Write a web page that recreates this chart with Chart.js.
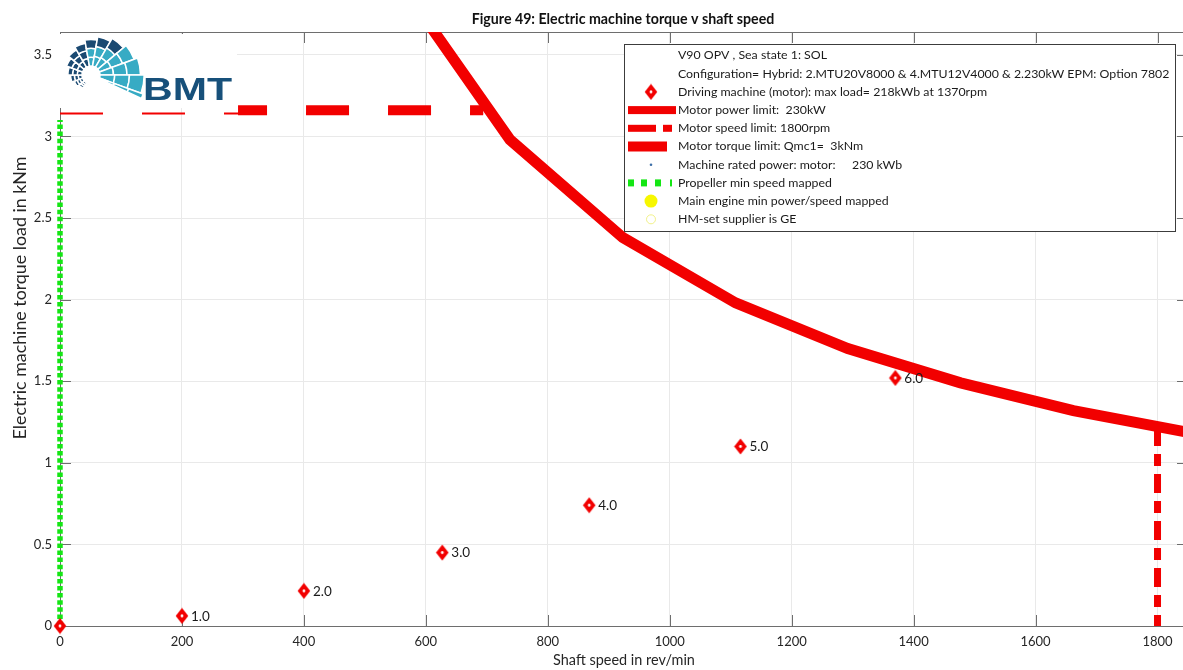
<!DOCTYPE html>
<html>
<head>
<meta charset="utf-8">
<script src="https://cdn.jsdelivr.net/npm/chart.js@4.4.1/dist/chart.umd.min.js"></script>
<style>
  html, body { margin: 0; padding: 0; background: #fff; overflow: hidden; width: 1183px; height: 670px; }
  canvas { display: block; }
</style>
</head>
<body>
<canvas id="chart" width="1200" height="670"></canvas>
<script>
// Axis ticks
const speedTicks = [0, 200, 400, 600, 800, 1000, 1200, 1400, 1600, 1800];
const torqueTicks = [0, 0.5, 1, 1.5, 2, 2.5, 3, 3.5];
const torqueTickLabels = ['0', '0.5', '1', '1.5', '2', '2.5', '3', '3.5'];

// Motor power limit (230 kW) as torque v speed
const powerLimitSpeed = [554, 738, 923, 1108, 1292, 1477, 1662, 1846];
const powerLimitTorque = [3.96, 2.98, 2.38, 1.98, 1.70, 1.49, 1.32, 1.19];

// Motor speed limit (1800 rpm)
const speedLimitSpeed = [1800, 1800];
const speedLimitTorque = [1.22, 0];

// Motor torque limit
const torqueLimitSpeed = [0, 694];
const torqueLimitTorque = [3.14, 3.14];
const torqueLimitHeavySpeed = [292, 694];
const torqueLimitHeavyTorque = [3.16, 3.16];

// Propeller minimum speed mapped
const propellerMinSpeed = [0, 0];
const propellerMinTorque = [0, 3.1];

// Driving machine (motor) operating points per speed step
const motorSpeed = [0, 200, 400, 627, 868, 1116, 1370];
const motorTorque = [0, 0.062, 0.215, 0.45, 0.74, 1.10, 1.52];
const motorLabels = ['', '1.0', '2.0', '3.0', '4.0', '5.0', '6.0'];

const FAMILY = 'Lato, "Open Sans", "Liberation Sans", sans-serif';
const RED = '#f20000';
const GREEN = '#14e614';
const AXIS = '#6e6e6e';

const pts = (xs, ys) => xs.map((x, i) => ({ x, y: ys[i] }));

// Red diamond marker with a white centre dot
function makeDiamond() {
  const c = document.createElement('canvas');
  c.width = 14; c.height = 17;
  const g = c.getContext('2d');
  g.fillStyle = RED;
  g.beginPath();
  g.moveTo(7, 0.5); g.lineTo(13.3, 8.5); g.lineTo(7, 16.5); g.lineTo(0.7, 8.5);
  g.closePath(); g.fill();
  g.fillStyle = '#fff';
  g.beginPath(); g.arc(7, 8.5, 1.4, 0, Math.PI * 2); g.fill();
  return c;
}
const diamond = makeDiamond();

function fitSize(ctx, text, width, weight) {
  ctx.font = `${weight} 20px ${FAMILY}`;
  return 20 * width / ctx.measureText(text).width;
}

function drawEmblem(ctx, cx, cy) {
  const a0 = 100, a1 = 385, step = 20, rIn = 9;
  const dark = '#1b4a72', teal = '#37abc4';
  const rad = d => d * Math.PI / 180;
  ctx.save();
  ctx.strokeStyle = '#fff';
  ctx.lineWidth = 1.5;
  for (let a = a0; a < a1; a += step) {
    const aEnd = Math.min(a + step, a1);
    const mid = (a + aEnd) / 2;
    const f = Math.pow((mid - a0) / (a1 - a0), 1.25);
    const rOut = 13 + f * 43;
    for (let b = 0; b < 3; b++) {
      const r0 = rIn + (rOut - rIn) * b / 3;
      const r1 = rIn + (rOut - rIn) * (b + 1) / 3;
      let col = dark;
      if (mid > 320) col = teal;
      else if (mid > 250 && b < 2) col = teal;
      ctx.fillStyle = col;
      ctx.beginPath();
      ctx.arc(cx, cy, r1, rad(a), rad(aEnd));
      ctx.arc(cx, cy, r0, rad(aEnd), rad(a), true);
      ctx.closePath();
      ctx.fill();
      ctx.stroke();
    }
  }
  ctx.restore();
}

const decorations = {
  id: 'decorations',
  beforeDatasetsDraw(chart) {
    const { ctx, chartArea: a, scales } = chart;
    ctx.save();
    ctx.strokeStyle = AXIS;
    ctx.lineWidth = 1;
    ctx.beginPath();
    ctx.moveTo(a.left, a.bottom + 0.5); ctx.lineTo(a.right, a.bottom + 0.5);
    ctx.moveTo(a.left, a.top + 0.5); ctx.lineTo(a.right, a.top + 0.5);
    ctx.moveTo(a.left + 0.5, a.top); ctx.lineTo(a.left + 0.5, a.bottom);
    ctx.moveTo(a.right - 0.5, a.top); ctx.lineTo(a.right - 0.5, a.bottom);
    const tl = 11;
    speedTicks.forEach(v => {
      const x = Math.round(scales.x.getPixelForValue(v)) + 0.5;
      ctx.moveTo(x, a.bottom); ctx.lineTo(x, a.bottom - tl);
      ctx.moveTo(x, a.top); ctx.lineTo(x, a.top + tl);
    });
    torqueTicks.forEach(v => {
      const y = Math.round(scales.y.getPixelForValue(v)) + 0.5;
      ctx.moveTo(a.left, y); ctx.lineTo(a.left + tl, y);
      ctx.moveTo(a.right, y); ctx.lineTo(a.right - tl, y);
    });
    ctx.stroke();
    ctx.restore();
  },
  afterDatasetsDraw(chart) {
    const { ctx } = chart;
    const meta = chart.getDatasetMeta(0);
    ctx.save();
    ctx.font = `13.5px ${FAMILY}`;
    ctx.fillStyle = '#1a1a1a';
    ctx.textBaseline = 'middle';
    meta.data.forEach((el, i) => {
      if (motorLabels[i]) ctx.fillText(motorLabels[i], el.x + 9, el.y + 0.5);
    });
    ctx.restore();
  },
  afterDraw(chart) {
    const { ctx } = chart;
    ctx.save();

    // Title
    const title = 'Figure 49: Electric machine torque v shaft speed';
    const ts = fitSize(ctx, title, 303, 'bold');
    ctx.font = `bold ${ts}px ${FAMILY}`;
    ctx.fillStyle = '#111';
    ctx.textAlign = 'center';
    ctx.textBaseline = 'middle';
    ctx.fillText(title, 623, 19);

    // Axis titles
    const xt = 'Shaft speed in rev/min';
    ctx.font = `${fitSize(ctx, xt, 142, 'normal')}px ${FAMILY}`;
    ctx.fillStyle = '#262626';
    ctx.fillText(xt, 624, 660);
    const yt = 'Electric machine torque load in kNm';
    ctx.font = `${fitSize(ctx, yt, 283, 'normal')}px ${FAMILY}`;
    ctx.save();
    ctx.translate(20, 298);
    ctx.rotate(-Math.PI / 2);
    ctx.fillText(yt, 0, 0);
    ctx.restore();

    // Legend
    const lx = 624, ly = 44, lw = 551, lh = 187;
    ctx.fillStyle = '#fff';
    ctx.fillRect(lx, ly, lw, lh);
    ctx.strokeStyle = '#3c3c3c';
    ctx.lineWidth = 1;
    ctx.strokeRect(lx + 0.5, ly + 0.5, lw, lh);
    const rows = [
      'V90 OPV , Sea state 1: SOL',
      'Configuration= Hybrid: 2.MTU20V8000 & 4.MTU12V4000 & 2.230kW EPM: Option 7802',
      'Driving machine (motor): max load= 218kWb at 1370rpm',
      'Motor power limit:  230kW',
      'Motor speed limit: 1800rpm',
      'Motor torque limit: Qmc1=  3kNm',
      'Machine rated power: motor:',
      'Propeller min speed mapped',
      'Main engine min power/speed mapped',
      'HM-set supplier is GE'
    ];
    const fs = fitSize(ctx, rows[1], 492, 'normal');
    ctx.font = `${fs}px ${FAMILY}`;
    ctx.fillStyle = '#1a1a1a';
    ctx.textAlign = 'left';
    const tx = 678, icx = 651;
    const rowY = i => 55.5 + i * 18.2;
    rows.forEach((r, i) => ctx.fillText(r, tx, rowY(i)));
    ctx.fillText('230 kWb', 852, rowY(6));

    // legend icons
    ctx.drawImage(diamond, icx - 7, rowY(2) - 8.5);
    ctx.fillStyle = RED;
    ctx.fillRect(628, rowY(3) - 4, 48, 8);
    ctx.fillRect(628, rowY(4) - 3.5, 28, 7);
    ctx.fillRect(663, rowY(4) - 3.5, 9, 7);
    ctx.fillRect(628, rowY(5) - 5, 39, 10);
    ctx.fillStyle = '#3d6fa8';
    ctx.beginPath(); ctx.arc(icx, rowY(6), 1.3, 0, Math.PI * 2); ctx.fill();
    ctx.fillStyle = GREEN;
    [628, 641, 655].forEach(x => ctx.fillRect(x, rowY(7) - 3.5, 6, 7));
    ctx.fillRect(670, rowY(7) - 3.5, 2, 7);
    ctx.fillStyle = '#f7f700';
    ctx.beginPath(); ctx.arc(icx, rowY(8), 6.5, 0, Math.PI * 2); ctx.fill();
    ctx.strokeStyle = '#f2f28a';
    ctx.lineWidth = 1;
    ctx.beginPath(); ctx.arc(icx, rowY(9), 4.5, 0, Math.PI * 2); ctx.stroke();

    // BMT logo
    ctx.fillStyle = '#fff';
    ctx.fillRect(57, 34, 180, 74);
    drawEmblem(ctx, 91, 75);
    ctx.fillStyle = '#17507a';
    ctx.font = `bold 31px "Liberation Sans", Arial, sans-serif`;
    const bw = ctx.measureText('BMT').width;
    ctx.save();
    ctx.translate(143, 100);
    ctx.scale(89 / bw, 1);
    ctx.textBaseline = 'alphabetic';
    ctx.fillText('BMT', 0, 0);
    ctx.restore();

    ctx.restore();
  }
};

const tickFont = { family: FAMILY, size: 13 };

new Chart(document.getElementById('chart'), {
  type: 'scatter',
  data: {
    datasets: [
      {
        label: 'Driving machine (motor)',
        data: pts(motorSpeed, motorTorque),
        pointStyle: diamond,
        pointRadius: 8,
        showLine: false,
        clip: 10
      },
      {
        label: 'Propeller min speed mapped marker',
        data: [{ x: propellerMinSpeed[0], y: propellerMinTorque[0] }],
        pointStyle: 'circle',
        pointRadius: 4.5,
        backgroundColor: 'rgba(40,220,40,0.7)',
        borderWidth: 0,
        showLine: false,
        clip: 10
      },
      {
        label: 'Motor power limit',
        data: pts(powerLimitSpeed, powerLimitTorque),
        showLine: true,
        borderColor: RED,
        borderWidth: 11,
        pointRadius: 0,
        borderJoinStyle: 'miter',
        clip: 0
      },
      {
        label: 'Motor speed limit',
        data: pts(speedLimitSpeed, speedLimitTorque),
        showLine: true,
        borderColor: RED,
        borderWidth: 7,
        borderDash: [19, 8, 12, 8],
        pointRadius: 0,
        clip: 0
      },
      {
        label: 'Motor torque limit',
        data: pts(torqueLimitHeavySpeed, torqueLimitHeavyTorque),
        showLine: true,
        borderColor: RED,
        borderWidth: 10,
        borderDash: [43, 39],
        borderDashOffset: 14,
        pointRadius: 0,
        clip: 0
      },
      {
        label: 'Motor torque limit (thin)',
        data: pts(torqueLimitSpeed, torqueLimitTorque),
        showLine: true,
        borderColor: RED,
        borderWidth: 2,
        borderDash: [43, 39],
        pointRadius: 0,
        clip: 0
      },
      {
        label: 'Propeller min speed mapped',
        data: pts(propellerMinSpeed, propellerMinTorque),
        showLine: true,
        borderColor: GREEN,
        borderWidth: 5.5,
        borderDash: [4.5, 2.6],
        pointRadius: 0,
        clip: 6
      }
    ]
  },
  options: {
    responsive: false,
    animation: false,
    events: [],
    layout: { padding: { top: 32, right: 12, left: 0, bottom: 0 } },
    plugins: { legend: { display: false }, tooltip: { enabled: false }, title: { display: false } },
    scales: {
      x: {
        type: 'linear',
        min: 0,
        max: 1850,
        afterBuildTicks: s => { s.ticks = speedTicks.map(v => ({ value: v })); },
        afterFit: s => { s.height = 44; },
        ticks: { font: tickFont, color: '#262626', padding: 8, maxRotation: 0, autoSkip: false, callback: v => String(v) },
        grid: { color: '#e9e9e9', drawTicks: false },
        border: { display: false }
      },
      y: {
        type: 'linear',
        min: 0,
        max: 3.64,
        afterBuildTicks: s => { s.ticks = torqueTicks.map(v => ({ value: v })); },
        afterFit: s => { s.width = 60; },
        ticks: { font: tickFont, color: '#262626', padding: 8, autoSkip: false,
                 callback: (v, i) => torqueTickLabels[i] },
        grid: { color: '#e9e9e9', drawTicks: false },
        border: { display: false }
      }
    }
  },
  plugins: [decorations]
});
</script>
</body>
</html>
